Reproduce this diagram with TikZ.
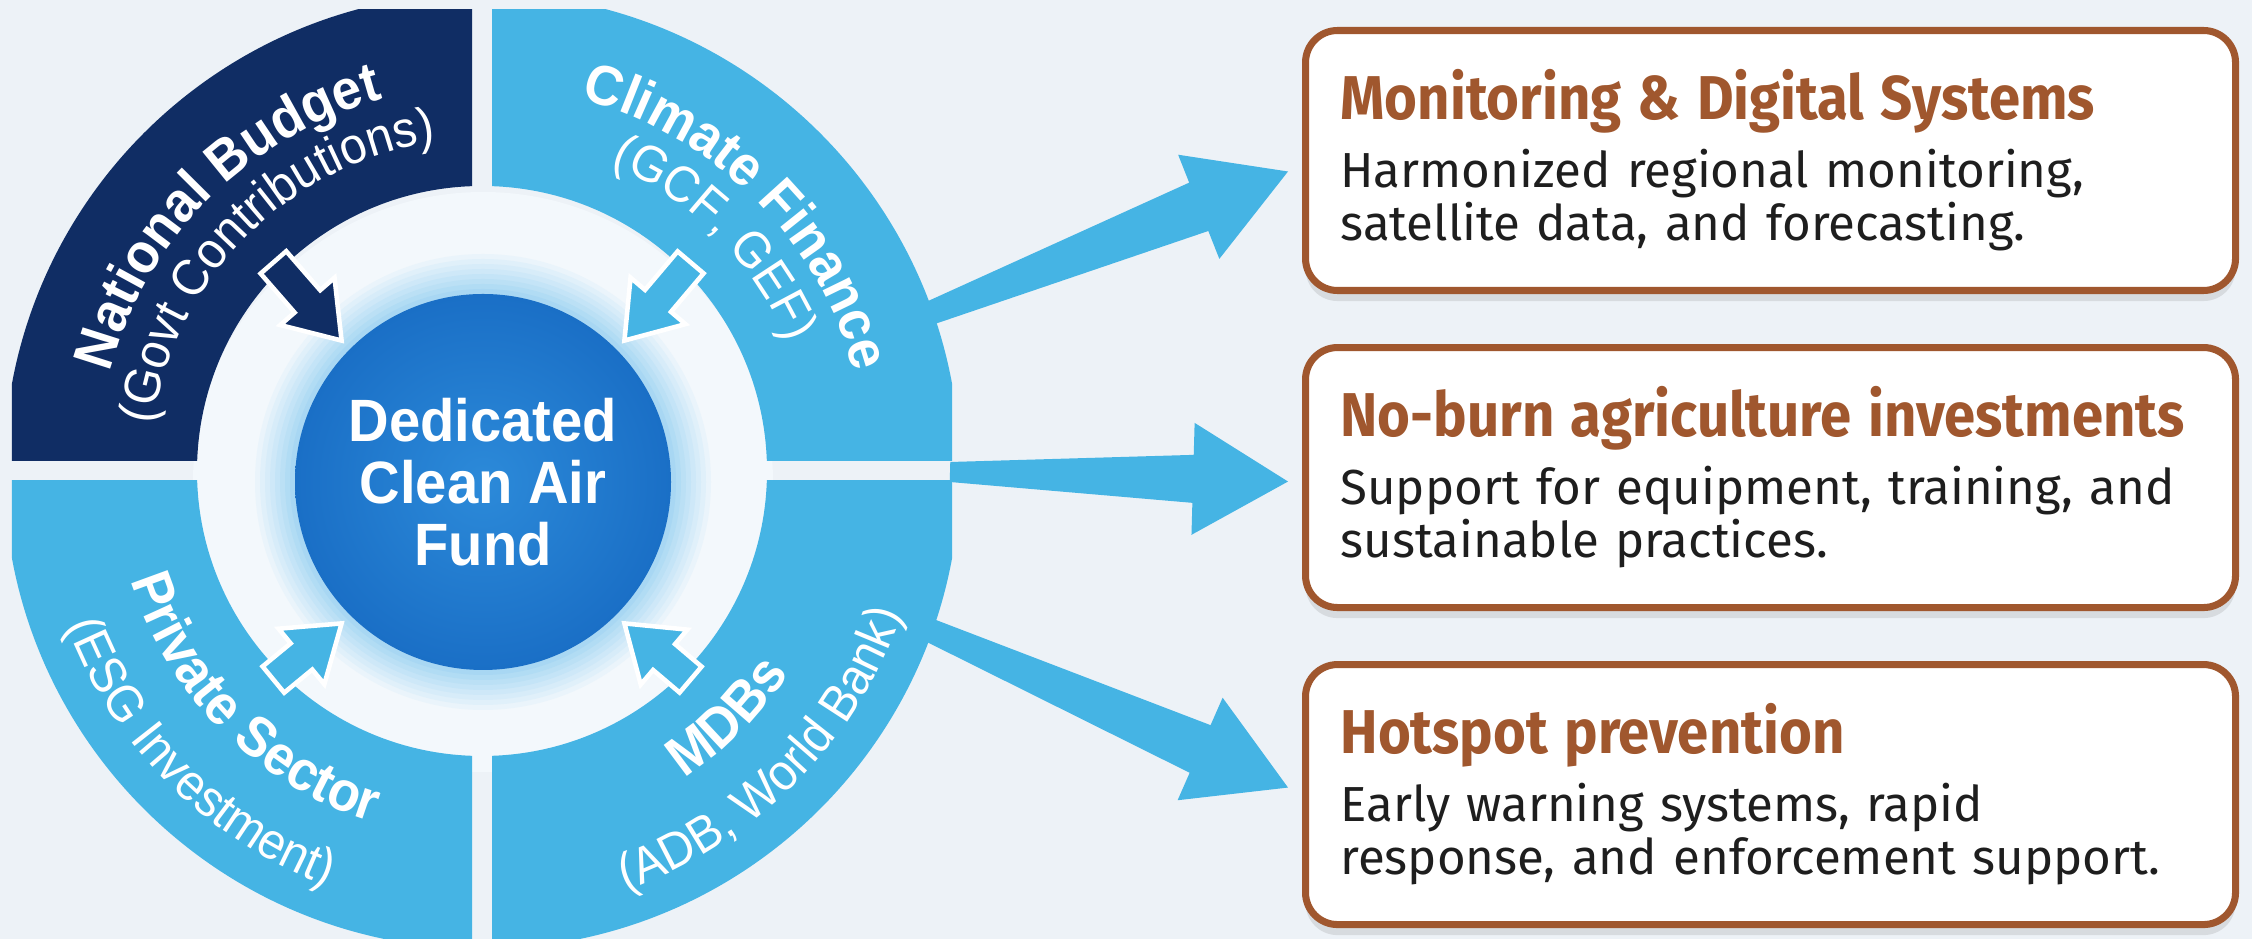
\documentclass[tikz,border=0pt]{standalone}
\usepackage{fontspec}
\setmainfont{Fira Sans}
\newfontfamily\headfamily{Fira Sans}[FakeStretch=0.91]
\newfontfamily\ringfont{Liberation Sans}[FakeStretch=0.94]
\usetikzlibrary{calc,positioning,shadows,decorations.text}

\definecolor{bgcol}{HTML}{EDF2F7}
\definecolor{navy}{HTML}{102D64}
\definecolor{sky}{HTML}{45B4E4}
\definecolor{fundblue}{HTML}{1A6FC6}
\definecolor{fundlight}{HTML}{2C8AD9}
\definecolor{halo}{HTML}{9ED3F2}
\definecolor{halowhite}{HTML}{F3F8FC}
\definecolor{rust}{HTML}{A0572E}
\definecolor{ink}{HTML}{1E1E1E}

\newcommand{\ringbold}{\ringfont\bfseries\fontsize{16}{16}\selectfont}
\newcommand{\ringreg}{\ringfont\fontsize{14.5}{14.5}\selectfont}
\newcommand{\headfont}{\headfamily\color{rust}\bfseries\fontsize{17.6}{17.6}\selectfont}
\newcommand{\fatarrow}[7]{%
  \coordinate (ah) at ($(#3)!#6!(#2)$);
  \path[#1] ($(#2)!#4!90:(#3)$) -- ($(ah)!#5!90:(#3)$) -- ($(ah)!#7!90:(#3)$) -- (#3)
    -- ($(ah)!#7!-90:(#3)$) -- ($(ah)!#5!-90:(#3)$) -- ($(#2)!#4!-90:(#3)$) -- cycle;}

\tikzset{
  inarrow/.style = {draw=white, line width=1.3pt, line join=miter},
  outarrow/.style = {fill=sky},
  box/.style = {draw=rust, line width=2pt, rounded corners=0.32cm, fill=white,
    minimum width=9.3cm, minimum height=2.6cm, text width=8.6cm, inner xsep=0.35cm,
    align=left, text=ink, font=\fontsize{14}{15.1}\selectfont,
    drop shadow={shadow xshift=0pt, shadow yshift=-3pt, opacity=.2}},
  ringtext/.style = {decorate, decoration={text along path, text align=center, text color=white, text={#1}}}
}

\begin{document}
\begin{tikzpicture}
  \useasboundingbox (0,0) rectangle (22.52,9.39);
  \fill[bgcol] (0,0) rectangle (22.52,9.39);
  \coordinate (c) at (4.82,4.68);

  \node[box, anchor=north west] (mon) at (13.02,9.12) {{\headfont Monitoring \& Digital Systems}\\[4.2pt]
    Harmonized regional monitoring,\\ satellite data, and forecasting.};
  \node[box, below=0.5cm of mon] (burn) {{\headfont No-burn agriculture investments}\\[4.2pt]
    Support for equipment, training, and\\ sustainable practices.};
  \node[box, below=0.5cm of burn] (hot) {{\headfont Hotspot prevention}\\[4.2pt]
    Early warning systems, rapid\\ response, and enforcement support.};

  \coordinate (monfrom) at (8.95,6.12);
  \coordinate (burnfrom) at (9.50,4.67);
  \coordinate (hotfrom) at (8.95,3.24);
  \coordinate (monto) at ($(mon.west)+(-0.14,-0.11)$);
  \coordinate (burnto) at ($(burn.west)+(-0.14,-0.04)$);
  \coordinate (hotto) at ($(hot.west)+(-0.14,0.07)$);
  \fatarrow{outarrow}{monfrom}{monto}{0.10cm}{0.26cm}{0.96cm}{0.56cm}
  \fatarrow{outarrow}{burnfrom}{burnto}{0.10cm}{0.24cm}{0.95cm}{0.56cm}
  \fatarrow{outarrow}{hotfrom}{hotto}{0.10cm}{0.26cm}{0.96cm}{0.56cm}

  \fill[halowhite] (4.83,4.57) circle (2.9);
  \foreach \r [count=\i] in {2.28,2.23,...,1.88} {
    \pgfmathtruncatemacro\pct{\i*11}
    \fill[halo!\pct!halowhite] (4.83,4.57) circle (\r);
  }
  \foreach \xa/\ya/\xb/\yb/\col in {0.12/4.78/4.72/9.29/navy, 4.92/4.78/9.52/9.29/sky,
      0.12/0/4.72/4.58/sky, 4.92/0/9.52/4.58/sky}{
    \begin{scope}
      \clip (\xa,\ya) rectangle (\xb,\yb);
      \fill[\col, even odd rule] (c) circle (4.78) (c) circle (2.85);
    \end{scope}
  }

  \node[circle, minimum size=3.76cm, inner color=fundlight, outer color=fundblue, text=white,
    align=center, font=\ringfont\bfseries\fontsize{17}{17.6}\selectfont] (fund) at (4.83,4.57)
    {Dedicated\\Clean Air\\Fund};

  \coordinate (nbtail) at ($(c)+(135:2.95)$);
  \coordinate (cftail) at ($(c)+(45:2.95)$);
  \coordinate (pstail) at ($(c)+(225:2.95)$);
  \coordinate (mdtail) at ($(c)+(315:2.95)$);
  \coordinate (nbtip) at ($(fund.center)+(135:2.0)$);
  \coordinate (cftip) at ($(fund.center)+(45:2.0)$);
  \coordinate (pstip) at ($(fund.center)+(225:2.0)$);
  \coordinate (mdtip) at ($(fund.center)+(315:2.0)$);
  \fatarrow{inarrow, fill=navy}{nbtail}{nbtip}{0.17cm}{0.17cm}{0.52cm}{0.36cm}
  \fatarrow{inarrow, fill=sky}{cftail}{cftip}{0.17cm}{0.17cm}{0.52cm}{0.36cm}
  \fatarrow{inarrow, fill=sky}{pstail}{pstip}{0.17cm}{0.17cm}{0.52cm}{0.36cm}
  \fatarrow{inarrow, fill=sky}{mdtail}{mdtip}{0.17cm}{0.17cm}{0.52cm}{0.36cm}

  \path[ringtext={|\ringbold|National Budget}] ($(c)+(178:3.85)$) arc (178:92:3.85);
  \path[ringtext={|\ringreg|(Govt Contributions)}] ($(c)+(178:3.32)$) arc (178:92:3.32);
  \path[ringtext={|\ringbold|Climate Finance}] ($(c)+(88:3.85)$) arc (88:2:3.85);
  \path[ringtext={|\ringreg|(GCF, GEF)}] ($(c)+(88:3.32)$) arc (88:2:3.32);
  \path[ringtext={|\ringbold|Private Sector}] ($(c)+(182:3.68)$) arc (182:268:3.68);
  \path[ringtext={|\ringreg|(ESG Investment)}] ($(c)+(182:4.43)$) arc (182:268:4.43);
  \path[ringtext={|\ringbold|MDBs}] ($(c)+(272:3.68)$) arc (272:358:3.68);
  \path[ringtext={|\ringreg|(ADB, World Bank)}] ($(c)+(272:4.43)$) arc (272:358:4.43);
\end{tikzpicture}
\end{document}
